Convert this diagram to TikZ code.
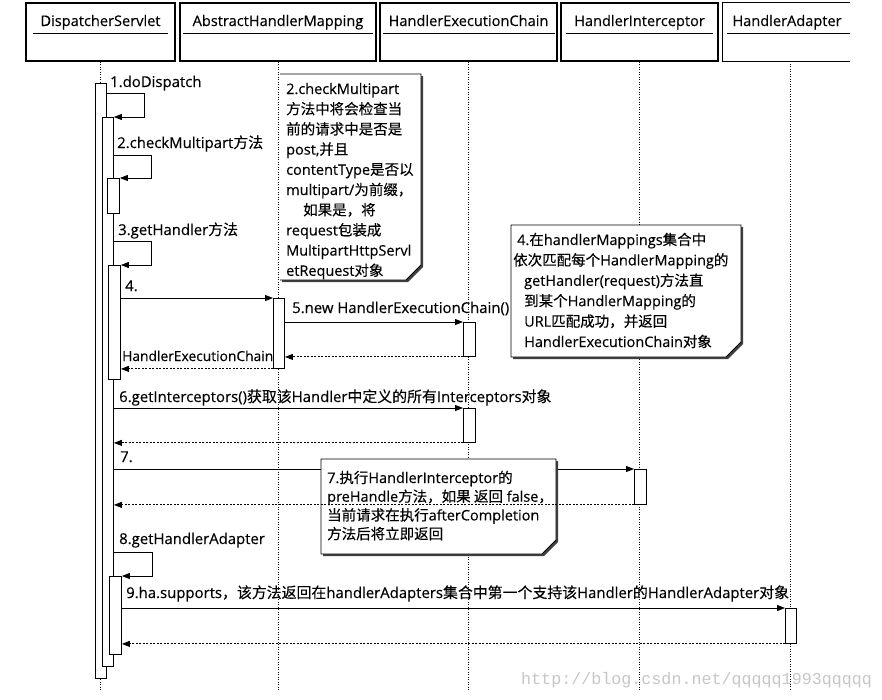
\documentclass[tikz,border=0pt]{standalone}
\usepackage{fontspec}
\setmainfont{Open Sans}[FakeBold=0.25]
\newfontfamily\cjkf{Noto Sans CJK SC}[FakeBold=0.25]
\newfontfamily\wmfont{Liberation Mono}
\newcommand\zh[1]{{\cjkf #1}}
\usetikzlibrary{arrows.meta,calc}
\newcommand\actbox[5]{\node[act, minimum width={(#4)-(#2)}, minimum height={(#5)-(#3)}] (#1) at (#2,#3) {};}
\begin{document}
\begin{tikzpicture}[x=1pt,y=-1pt,
  every node/.style={inner sep=0pt},
  txt/.style={anchor=base west, font=\fontsize{14.5}{17}\selectfont},
  mtxt/.style={anchor=base west, font=\fontsize{14.9}{17}\selectfont},
  ttl/.style={anchor=base, font=\fontsize{14.6}{17}\selectfont},
  hdr/.style={draw, line width=1.1pt, minimum height=58pt},
  hdrline/.style={line width=1.1pt},
  uline/.style={line width=0.9pt},
  life/.style={line width=0.9pt, dash pattern=on 1pt off 1.5pt},
  act/.style={draw, fill=white, line width=0.9pt, anchor=north west},
  msg/.style={line width=0.9pt, -{Triangle[length=8pt,width=6pt]}},
  ret/.style={msg, dash pattern=on 2pt off 1.5pt},
  noteline/.style={line width=0.9pt, line join=miter},
  shadow/.style={fill=black!75}]
\fill[white] (0,0) rectangle (882,699);
\useasboundingbox (0,0) rectangle (882,699);

% header boxes
\node[hdr, minimum width=149pt] (h1) at (100.5,32) {};
\node[hdr, minimum width=196pt] (h2) at (278,32) {};
\node[hdr, minimum width=177pt] (h3) at (468.5,32) {};
\node[hdr, minimum width=157pt] (h4) at (639.5,32) {};
\node[minimum width=134pt, minimum height=58pt] (h5) at (790,32) {};
\draw[hdrline] ($(h5.north west)+(127,0)$) -- (h5.north west) -- (h5.south west) -- ($(h5.south west)+(127,0)$);

\node[ttl] (t1) at (100.5,26) {DispatcherServlet};
\node[ttl] (t2) at (278,26) {AbstractHandlerMapping};
\node[ttl] (t3) at (468.5,26) {HandlerExecutionChain};
\node[ttl] (t4) at (639.5,26) {HandlerInterceptor};
\node[ttl] (t5) at (787,26) {HandlerAdapter};
\draw[uline] ($(h1.north west)+(8,31)$) -- ($(h1.north east)+(-8,31)$);
\draw[uline] ($(h2.north west)+(4,31)$) -- ($(h2.north east)+(-4,31)$);
\draw[uline] ($(h3.north west)+(4,31)$) -- ($(h3.north east)+(-3,31)$);
\draw[uline] ($(h4.north west)+(6,31)$) -- ($(h4.north east)+(-6,31)$);
\draw[uline] ($(h5.north west)+(4,31)$) -- ($(h5.north west)+(127,31)$);

% lifelines
\coordinate (bot) at (0,690);
\foreach \h in {h1,h2,h3,h4,h5} \draw[life] (\h.south) -- (\h.south |- bot);

% note 2
\fill[shadow] (282,76) -- (423,76) -- (423,267) -- (408,282) -- (282,282) -- cycle;
\fill[white] (280,74) -- (421,74) -- (421,265) -- (406,280) -- (280,280) -- cycle;
\draw[noteline] (280,74) -- (421,74) -- (421,265) -- (406,280) -- (280,280);
\foreach \t [count=\i] in {{2.checkMultipart},{\zh{方法中将会检查当}},{\zh{前的请求中是否是}},{post,\zh{并且}},{contentType\zh{是否以}},{multipart/\zh{为前缀，}},{\hspace*{17pt}\zh{如果是，将}},{request\zh{包装成}},{MultipartHttpServl},{etRequest\zh{对象}}}
  \node[txt] (n2-\i) at (286,{94+(\i-1)*20.2}) {\t};

% note 4
\fill[shadow] (513,227) -- (743,227) -- (743,344) -- (728,359) -- (513,359) -- cycle;
\filldraw[fill=white, noteline] (511,225) -- (741,225) -- (741,342) -- (726,357) -- (511,357) -- cycle;
\foreach \t [count=\i] in {{\hspace*{-7pt}4.\zh{在}handlerMappings\zh{集合中}},{\hspace*{-11pt}\zh{依次匹配每个}HandlerMapping\zh{的}},{getHandler(request)\zh{方法直}},{\zh{到某个}HandlerMapping\zh{的}},{URL\zh{匹配成功，并返回}},{HandlerExecutionChain\zh{对象}}}
  \node[txt] (n4-\i) at (524,{245+(\i-1)*20.4}) {\t};

% activation bars
\actbox{barA}{95}{83}{106}{678}
\actbox{barB}{102}{117}{113}{666}
\actbox{barC}{107}{178}{119}{213}
\actbox{barD}{108}{265}{120}{379}
\actbox{barE}{109}{576}{121}{654}
\actbox{barM}{273}{298}{284}{368}
\actbox{barHA}{785}{608}{796}{643}
\actbox{barH1}{463}{322}{475}{356}
\actbox{barH2}{463}{408}{475}{442}
\actbox{barI}{634}{469}{646}{504}

% message 7 (behind note 7)
\draw[msg] (barB.east |- barI.north) -- (barI.north west);

% note 7
\fill[shadow] (323,461) -- (558,461) -- (558,542) -- (544,556) -- (323,556) -- cycle;
\filldraw[fill=white, noteline] (321,459) -- (556,459) -- (556,540) -- (542,554) -- (321,554) -- cycle;
\foreach \t [count=\i] in {{7.\zh{执行}HandlerInterceptor\zh{的}},{preHandle\zh{方法，如果 返回} false\zh{，}},{\zh{当前请求在执行}afterCompletion},{\zh{方法后将立即返回}}}
  \node[txt] (n7-\i) at (327,{483+(\i-1)*18.7}) {\t};
\draw[ret] (barI.south west) -- (barB.east |- barI.south);

% self calls
\coordinate (l1) at (144,93);
\coordinate (l2) at (151,155);
\coordinate (l3) at (151,241);
\coordinate (l8) at (152,552);
\draw[msg] (barA.east |- l1) -- (l1) |- (barB.north east);
\draw[msg] (barB.east |- l2) -- (l2) |- (barC.north east);
\draw[msg] (barB.east |- l3) -- (l3) |- (barD.north east);
\draw[msg] (barB.east |- l8) -- (l8) |- (barE.north east);

% messages
\draw[msg] (barD.east |- barM.north) -- (barM.north west);
\draw[msg] (barM.east |- barH1.north) -- (barH1.north west);
\draw[ret] (barH1.south west) -- (barM.east |- barH1.south);
\draw[ret] (barM.south west) -- (barD.east |- barM.south);
\draw[msg] (barB.east |- barH2.north) -- (barH2.north west);
\draw[ret] (barH2.south west) -- (barB.east |- barH2.south);
\draw[msg] (barE.east |- barHA.north) -- (barHA.north west);
\draw[ret] (barHA.south west) -- (barE.east |- barHA.south);

% labels
\node[mtxt] (m1) at (110,87) {1.doDispatch};
\node[mtxt] (m2) at (117,148) {2.checkMultipart\zh{方法}};
\node[mtxt] (m3) at (118,235) {3.getHandler\zh{方法}};
\node[mtxt] (m4) at (125,291) {4.};
\node[mtxt] (m5) at (292,313) {5.new HandlerExecutionChain()};
\node[anchor=base west, font=\fontsize{13.8}{17}\selectfont] (m5r) at (122,361) {HandlerExecutionChain};
\node[mtxt] (m6) at (119,402) {6.getInterceptors()\zh{获取该}Handler\zh{中定义的所有}Interceptors\zh{对象}};
\node[mtxt] (m7) at (120,462) {7.};
\node[mtxt] (m8) at (119,544) {8.getHandlerAdapter};
\node[mtxt] (m9) at (126,598) {9.ha.supports\zh{，该方法返回在}handlerAdapters\zh{集合中第一个支持该}Handler\zh{的}HandlerAdapter\zh{对象}};

% watermark
\node[anchor=base west, text=black!22, font=\wmfont\fontsize{16.7}{18}\selectfont] (wm) at (521,684) {http://blog.csdn.net/qqqqq1993qqqqq};
\end{tikzpicture}
\end{document}
